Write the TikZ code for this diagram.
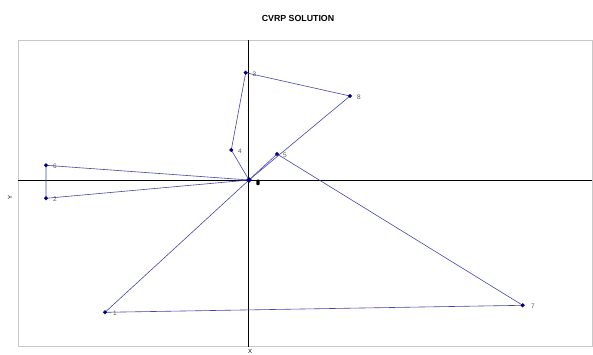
\documentclass[tikz,border=0pt]{standalone}
\usepackage{fontspec}
\setmainfont{Liberation Sans}
\usetikzlibrary{shapes.geometric}
\definecolor{route}{RGB}{70,70,170}
\definecolor{mk}{RGB}{0,0,128}
\definecolor{frame}{RGB}{200,200,200}
\definecolor{lbl}{RGB}{90,90,90}
\tikzset{
  pt/.style={diamond,fill=mk,inner sep=0pt,minimum size=4.5pt},
  lab/.style={font=\fontsize{6.5}{7}\selectfont,text=lbl,anchor=west,inner sep=0pt},
  rt/.style={draw=route,line width=0.6pt},
  ax/.style={draw=black,line width=0.9pt}
}
\begin{document}
\begin{tikzpicture}[x=1pt,y=-1pt]
\useasboundingbox (0,0) rectangle (593,354);
\fill[white] (0,0) rectangle (593,354);
\draw[frame,line width=1pt] (18.3,40.3) rectangle (592.3,346.7);
\node[font=\bfseries\fontsize{8.8}{9}\selectfont] (title) at (298,18) {CVRP SOLUTION};
\node[font=\fontsize{6}{7}\selectfont,rotate=90] (ylab) at (10,197) {Y};
\node[font=\fontsize{6}{7}\selectfont] (xlab) at (250,351) {X};
\coordinate (axl) at (18.3,180);
\coordinate (axr) at (592.3,180);
\coordinate (axt) at (248.7,40.3);
\coordinate (axb) at (248.7,346.7);
\draw[ax] (axl) -- (axr);
\draw[ax] (axt) -- (axb);
\coordinate (d) at (249,180);
\coordinate (p1) at (105,312.3);
\coordinate (p2) at (46,198.3);
\coordinate (p3) at (245.7,72.7);
\coordinate (p4) at (231.3,150);
\coordinate (p5) at (277,154);
\coordinate (p6) at (46,165.3);
\coordinate (p7) at (522.7,305.3);
\coordinate (p8) at (350,96);
\draw[rt] (d) -- (p4) -- (p3) -- (p8) -- (d);
\draw[rt] (d) -- (p5) -- (p7) -- (p1) -- (d);
\draw[rt] (d) -- (p6) -- (p2) -- (d);
\foreach \p in {1,...,8} \node[pt] (m\p) at (p\p) {};
\node[pt,minimum size=6pt] (md) at (d) {};
\node[lab] (l1) at (113,313.5) {1};
\node[lab] (l2) at (53,199.5) {2};
\node[lab] (l3) at (252.5,74) {3};
\node[lab] (l4) at (238,151) {4};
\node[lab] (l5) at (283,155.5) {5};
\node[lab] (l6) at (53,166.5) {6};
\node[lab] (l7) at (531,306.5) {7};
\node[lab] (l8) at (357,97) {8};
\fill[black,rounded corners=1pt] (256.3,179.5) rectangle (259.7,185.2);
\end{tikzpicture}
\end{document}
